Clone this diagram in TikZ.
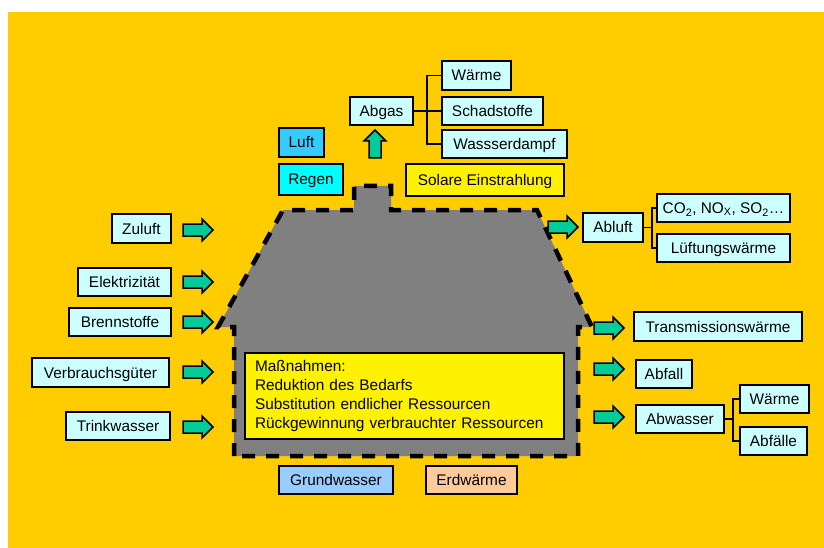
\documentclass[tikz,border=0pt]{standalone}
\usepackage{fontspec}
\setmainfont{Liberation Sans}
\definecolor{bg}{RGB}{255,204,0}
\definecolor{boxcyan}{RGB}{204,255,255}
\definecolor{arrowteal}{RGB}{0,204,153}
\definecolor{luftblue}{RGB}{51,204,255}
\definecolor{regencyan}{RGB}{0,255,255}
\definecolor{housegray}{RGB}{128,128,128}
\definecolor{gwblue}{RGB}{153,204,255}
\definecolor{erdorange}{RGB}{255,204,153}
\begin{document}
\begin{tikzpicture}[x=1pt,y=-1pt,
  box/.style={draw=black, line width=1.6pt, fill=boxcyan, inner sep=0pt,
    minimum height=28pt, text height=11pt, text depth=0pt,
    font=\fontsize{15.4}{19}\selectfont},
  conn/.style={draw=black, line width=1.6pt},
  house/.style={fill=housegray, draw=black, line width=4.5pt, dash pattern=on 13pt off 11pt},
  arrowbody/.style={draw=black, line width=1.5pt, fill=arrowteal, line join=miter},
  rarrow/.pic={\path[arrowbody] (-15,-6) -- (4,-6) -- (4,-11) -- (15,0) -- (4,11) -- (4,6) -- (-15,6) -- cycle;},
  uarrow/.pic={\path[arrowbody] (-6,14) -- (-6,-3) -- (-11,-3) -- (0,-14) -- (11,-3) -- (6,-3) -- (6,14) -- cycle;}
]
\useasboundingbox (0,0) rectangle (824,548);
\fill[white] (0,0) rectangle (824,548);
\fill[bg] (8,12) rectangle (824,548);

% house
\path[house] (234,456) -- (234,327) -- (218,327) -- (283,210) -- (354,210) -- (354,186)
  -- (391,186) -- (391,210) -- (537,210) -- (592,327) -- (578,327) -- (578,456) -- cycle;

% center box
\node[box, fill=yellow, minimum width=319pt, minimum height=86pt, text width=299pt,
  inner xsep=10pt, align=left, text height=, text depth=] (massn) at (404.5,396)
  {Maßnahmen:\\Reduktion des Bedarfs\\Substitution endlicher Ressourcen\\Rückgewinnung verbrauchter Ressourcen};

% top
\node[box, minimum width=63pt] (abgas) at (381.5,111) {Abgas};
\node[box, minimum width=69pt, minimum height=29pt] (waerme1) at (476.5,75.5) {Wärme};
\node[box, minimum width=101pt] (schad) at (492.5,111) {Schadstoffe};
\node[box, minimum width=125pt] (dampf) at (504.5,144) {Wassserdampf};
\coordinate (j1) at (427,111);
\draw[conn] (abgas.east) -- (j1) -- (schad.west);
\draw[conn] (waerme1.west) -| (j1) |- (dampf.west);
\pic at (375,144) {uarrow};

\node[box, fill=luftblue, minimum width=45pt, minimum height=29pt] (luft) at (301.5,142.5) {Luft};
\node[box, fill=regencyan, minimum width=64pt, minimum height=31pt] (regen) at (311,179.5) {Regen};
\node[box, fill=yellow, minimum width=158pt, minimum height=32pt] (solar) at (485,180) {Solare Einstrahlung};

% Abluft
\pic at (563,227) {rarrow};
\node[box, minimum width=60pt, minimum height=29pt] (abluft) at (613,227.5) {Abluft};
\node[box, minimum width=133pt] (co) at (723.5,208) {CO\textsubscript{2}, NO\textsubscript{X}, SO\textsubscript{2}…};
\node[box, minimum width=133pt] (lueft) at (723.5,248) {Lüftungswärme};
\coordinate (j2) at (652,227.5);
\draw[conn] (abluft.east) -- (j2);
\draw[conn] (co.west) -| (j2) |- (lueft.west);

% left inputs
\node[box, minimum width=59pt, minimum height=29pt] (zuluft) at (141.5,228.5) {Zuluft};
\node[box, minimum width=93pt] (elek) at (124.5,282) {Elektrizität};
\node[box, minimum width=102pt] (brenn) at (120,322) {Brennstoffe};
\node[box, minimum width=137pt, minimum height=29pt] (verb) at (100.5,372.5) {Verbrauchsgüter};
\node[box, minimum width=104pt] (trink) at (118,426) {Trinkwasser};
\pic at (198,230) {rarrow};
\pic at (198,282) {rarrow};
\pic at (198,322) {rarrow};
\pic at (198,372) {rarrow};
\pic at (198,427) {rarrow};

% right outputs
\pic at (609,328) {rarrow};
\pic at (609,369) {rarrow};
\pic at (609,417) {rarrow};
\node[box, minimum width=168pt, minimum height=29pt] (trans) at (718,326.5) {Transmissionswärme};
\node[box, minimum width=56pt] (abfall) at (664,374) {Abfall};
\node[box, minimum width=88pt] (abw) at (680,419) {Abwasser};
\node[box, minimum width=69pt] (waerme2) at (774.5,399) {Wärme};
\node[box, minimum width=67pt] (abfaelle) at (773.5,441) {Abfälle};
\coordinate (j3) at (733,419);
\draw[conn] (abw.east) -- (j3);
\draw[conn] (waerme2.west) -| (j3) |- (abfaelle.west);

% bottom
\node[box, fill=gwblue, minimum width=114pt] (grund) at (336,480) {Grundwasser};
\node[box, fill=erdorange, minimum width=91pt] (erd) at (471.5,480) {Erdwärme};
\end{tikzpicture}
\end{document}
